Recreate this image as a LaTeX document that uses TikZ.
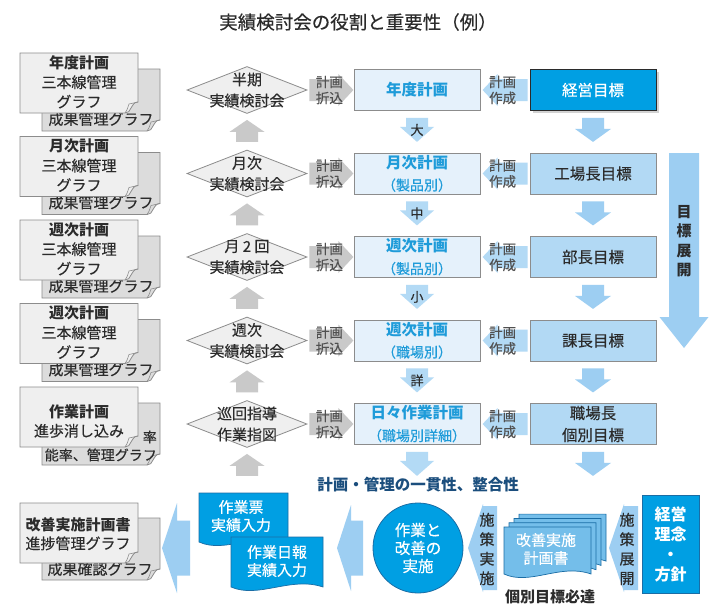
\documentclass[tikz,border=0pt]{standalone}
\usepackage{fontspec}
\setmainfont{Noto Sans CJK JP}[UprightFeatures={FakeBold=0.35}]
\usetikzlibrary{arrows.meta, positioning, shapes.geometric, calc, shadows}

\definecolor{deepblue}{HTML}{009FE3}
\definecolor{lightblue}{HTML}{B2D9F4}
\definecolor{arrowblue}{HTML}{9DCEF2}
\definecolor{planarrow}{HTML}{B3DAF5}
\definecolor{planfill}{HTML}{E5F1FB}
\definecolor{plantext}{HTML}{1E9BD9}
\definecolor{grayarrow}{HTML}{C9C9C9}
\definecolor{framegray}{HTML}{8C8C8C}
\definecolor{sheetfill}{HTML}{EFEFEF}
\definecolor{sheetdark}{HTML}{DCDCDC}
\definecolor{navytext}{HTML}{1B4E7D}
\definecolor{inkgray}{HTML}{2B2B2B}
\definecolor{taggray}{HTML}{505050}
\definecolor{edgeblue}{HTML}{1A6DA5}
\definecolor{stackblue}{HTML}{74BEEA}

\newcommand\plansub[1]{{\fontsize{14}{22}\selectfont #1}}

\tikzset{%
   % block arrow, drawn from its tail along +x
   arrow len/.initial=22,
   arrow shaft/.initial=22,
   arrow head/.initial=34,
   arrow tip/.initial=12,
   pics/blockarrow/.style={code={
      \pgfmathsetmacro\arrL{\pgfkeysvalueof{/tikz/arrow len}}
      \pgfmathsetmacro\arrS{\pgfkeysvalueof{/tikz/arrow shaft}/2}
      \pgfmathsetmacro\arrH{\pgfkeysvalueof{/tikz/arrow head}/2}
      \pgfmathsetmacro\arrT{\arrL-\pgfkeysvalueof{/tikz/arrow tip}}
      \path[pic actions] (0,-\arrS) -- (\arrT,-\arrS) -- (\arrT,-\arrH) -- (\arrL,0)
         -- (\arrT,\arrH) -- (\arrT,\arrS) -- (0,\arrS) -- cycle;
   }},
   % sheet of paper with a curled corner, drawn from its top left corner
   pics/leaf/.style args={#1/#2}{code={
      \path[pic actions] (0,0) -- (#1,0) -- (#1,#2-11)
         .. controls (#1-4,#2-11) and (#1-5,#2-8) .. (#1-7,#2-5)
         .. controls (#1-8,#2-2) and (#1-10,#2) .. (#1-13,#2) -- (0,#2) -- cycle;
      \draw[framegray, line width=0.6pt] (#1-13,#2) .. controls (#1-10,#2-4) and (#1-10,#2-7) .. (#1-9,#2-9) -- (#1,#2-11);
   }},
   % slip with a wavy lower edge
   pics/slip/.style args={#1/#2}{code={
      \path[pic actions] (0,0) -- (#1,0) -- (#1,#2-3)
         .. controls (#1*0.65,#2-14) and (#1*0.3,#2+9) .. (0,#2-3) -- cycle;
   }},
   grayarr/.style={fill=grayarrow},
   bluearr/.style={fill=arrowblue},
   planarr/.style={fill=planarrow},
   sheetfront/.style={fill=sheetfill, draw=framegray, line width=0.8pt},
   sheetback/.style={fill=sheetdark, draw=framegray, line width=0.8pt},
   sheettext/.style={text=inkgray, align=center, inner sep=0pt,
      font=\fontsize{15}{19.5}\selectfont},
   review/.style={diamond, draw=framegray, fill=sheetfill, line width=0.8pt,
      minimum width=120, minimum height=47, inner sep=0pt},
   reviewtext/.style={text=inkgray, align=center, inner sep=0pt,
      font=\fontsize{15}{21}\selectfont},
   planbox/.style={rectangle, draw=framegray, fill=planfill, line width=0.8pt,
      minimum width=126, minimum height=41, inner sep=0pt, align=center,
      text=plantext, font=\fontsize{15.5}{22}\selectfont},
   goalbox/.style={rectangle, draw=framegray, fill=lightblue, line width=0.8pt,
      minimum width=126, minimum height=41, inner sep=0pt, align=center,
      text=inkgray, font=\fontsize{15.5}{22}\selectfont},
   topgoal/.style={goalbox, fill=deepblue, draw=inkgray, text=white,
      drop shadow={shadow xshift=2.5pt, shadow yshift=-2.5pt, opacity=0.35}},
   tag/.style={text=taggray, align=center, inner sep=0pt,
      font=\fontsize{13.5}{16}\selectfont},
   steplabel/.style={text=inkgray, inner sep=0pt, font=\fontsize{13}{15}\selectfont},
   vtext/.style={text=inkgray, align=center, inner sep=0pt,
      font=\fontsize{15}{19.5}\selectfont},
   slipfill/.style={fill=deepblue, draw=edgeblue, line width=0.7pt},
   stackfill/.style={fill=stackblue, draw=edgeblue, line width=0.7pt},
   sliptext/.style={text=white, align=center, inner sep=0pt,
      font=\fontsize{15}{18}\selectfont},
}

\begin{document}
\begin{tikzpicture}[x=1pt, y=-1pt]
   \useasboundingbox[fill=white] (0,0) rectangle (720,614);
   \node[text=inkgray, font=\fontsize{18.5}{22}\selectfont] (title) at (358,22) {実績検討会の役割と重要性（例）};

   % left column: plan sheets
   \foreach \i/\y/\ttl in {1/90/年度計画, 2/173.5/月次計画, 3/257/週次計画, 4/340.5/週次計画}{
      \pic[sheetback] at (42,\y-21) {leaf=118/62};
      \node[sheettext] (back\i) at (101,\y+29) {成果管理グラフ};
      \pic[sheetfront] at (20,\y-37) {leaf=118/60};
      \node[sheettext] (front\i) at (79,\y-8) {\textbf{\ttl}\\三本線管理\\グラフ};
   }
   \pic[sheetback] at (42,403) {leaf=118/62};
   \node[sheettext, align=right, anchor=east, font=\fontsize{14}{18}\selectfont] (back5) at (157,446) {率\\能率、管理グラフ};
   \pic[sheetfront] at (20,387) {leaf=118/60};
   \node[sheettext] (front5) at (79,421) {\textbf{作業計画}\\進歩消し込み};

   % review meetings
   \foreach \i/\y/\txt in {1/90/{半期\\実績検討会}, 2/173.5/{月次\\実績検討会},
         3/257/{月 2 回\\実績検討会}, 4/340.5/{週次\\実績検討会}, 5/424/{巡回指導\\作業指図}}{
      \node[review] (m\i) at (247,\y) {};
      \node[reviewtext] (mt\i) at (m\i) {\txt};
   }

   % plans
   \node[planbox] (p1) at (417,90) {\textbf{年度計画}};
   \node[planbox] (p2) at (417,173.5) {\textbf{月次計画}\\\plansub{（製品別）}};
   \node[planbox] (p3) at (417,257) {\textbf{週次計画}\\\plansub{（製品別）}};
   \node[planbox] (p4) at (417,340.5) {\textbf{週次計画}\\\plansub{（職場別）}};
   \node[planbox] (p5) at (417,424) {\textbf{日々作業計画}\\\plansub{（職場別詳細）}};

   % goals
   \node[topgoal] (g1) at (593,90) {経営目標};
   \node[goalbox] (g2) at (593,173.5) {工場長目標};
   \node[goalbox] (g3) at (593,257) {部長目標};
   \node[goalbox] (g4) at (593,340.5) {課長目標};
   \node[goalbox] (g5) at (593,424) {職場長\\個別目標};

   \foreach \i in {1,...,5}{
      \pic[grayarr, arrow len=44, arrow shaft=22, arrow head=32, arrow tip=15] at ($(m\i.east)+(2,0)$) {blockarrow};
      \node[tag] (fold\i) at ($(m\i.east)+(22,0)$) {計画\\折込};
      \pic[planarr, rotate=180, arrow len=45, arrow shaft=22, arrow head=32, arrow tip=15] at ($(g\i.west)+(-2,0)$) {blockarrow};
      \node[tag] (make\i) at ($(g\i.west)+(-27,0)$) {計画\\作成};
      \pic[grayarr, rotate=90, arrow len=22, arrow shaft=22, arrow head=35, arrow tip=12] at ($(m\i.south)+(0,28)$) {blockarrow};
      \pic[planarr, rotate=-90, arrow len=24, arrow shaft=22, arrow head=34, arrow tip=15] at ($(p\i.south)+(0,7)$) {blockarrow};
      \pic[bluearr, rotate=-90, arrow len=24, arrow shaft=22, arrow head=36, arrow tip=13] at ($(g\i.south)+(0,7)$) {blockarrow};
   }
   \foreach \i/\lbl in {1/大, 2/中, 3/小, 4/詳}
      \node[steplabel] (lv\i) at ($(p\i.south)+(0,19)$) {\lbl};

   % goal deployment
   \pic[bluearr, rotate=-90, arrow len=195, arrow shaft=30, arrow head=49, arrow tip=31] at (684,153) {blockarrow};
   \node[vtext, font=\bfseries\fontsize{15}{19.5}\selectfont] (spread) at (684,241) {目\\標\\展\\開};

   % bottom row
   \node[text=navytext, inner sep=0pt, font=\bfseries\fontsize{15.5}{18}\selectfont] (unity) at (418,485) {計画・管理の一貫性、整合性};

   \pic[sheetback] at (42,518) {leaf=118/62};
   \node[sheettext] (back6) at (100,569) {成果確認グラフ};
   \pic[sheetfront] at (20,503) {leaf=118/60};
   \node[sheettext, font=\fontsize{15}{18.5}\selectfont] (front6) at (78,534) {\textbf{改善実施計画書}\\進捗管理グラフ};

   \pic[bluearr, rotate=180, arrow len=28, arrow shaft=55, arrow head=90, arrow tip=15] at (190,548) {blockarrow};
   \pic[slipfill] at (199,493) {slip=89/52};
   \node[sliptext] (ticket) at (241,516) {作業票\\実績入力};
   \pic[slipfill] at (231,537) {slip=92/53};
   \node[sliptext] (report) at (277,561) {作業日報\\実績入力};

   \pic[bluearr, rotate=180, arrow len=26, arrow shaft=55, arrow head=86, arrow tip=14] at (363,548) {blockarrow};
   \node[circle, fill=deepblue, draw=edgeblue, line width=0.8pt, minimum size=90, inner sep=0pt,
      sliptext, font=\fontsize{15.5}{18}\selectfont] (act) at (418,548) {作業と\\改善の\\実施};

   \pic[bluearr, rotate=180, arrow len=29, arrow shaft=84, arrow head=88, arrow tip=15] at (497,548) {blockarrow};
   \node[vtext] (exec) at (487,549) {施\\策\\実\\施};

   \foreach \k in {3,2,1,0}
      \pic[stackfill] at (504+5*\k,527-4.3*\k) {slip=87/50};
   \node[sliptext] (kaizen) at (546,549) {改善実施\\計画書};
   \node[text=inkgray, inner sep=0pt, font=\bfseries\fontsize{15}{18}\selectfont] (must) at (550,597) {個別目標必達};

   \pic[bluearr, rotate=180, arrow len=29, arrow shaft=84, arrow head=88, arrow tip=15] at (638,548) {blockarrow};
   \node[vtext] (deploy) at (627,549) {施\\策\\展\\開};
   \node[rectangle, fill=deepblue, draw=edgeblue, line width=0.8pt, minimum width=57, minimum height=98,
      inner sep=0pt, sliptext, font=\bfseries\fontsize{16}{20}\selectfont] (policy) at (670.5,544) {経営\\理念\\・\\方針};
\end{tikzpicture}
\end{document}
